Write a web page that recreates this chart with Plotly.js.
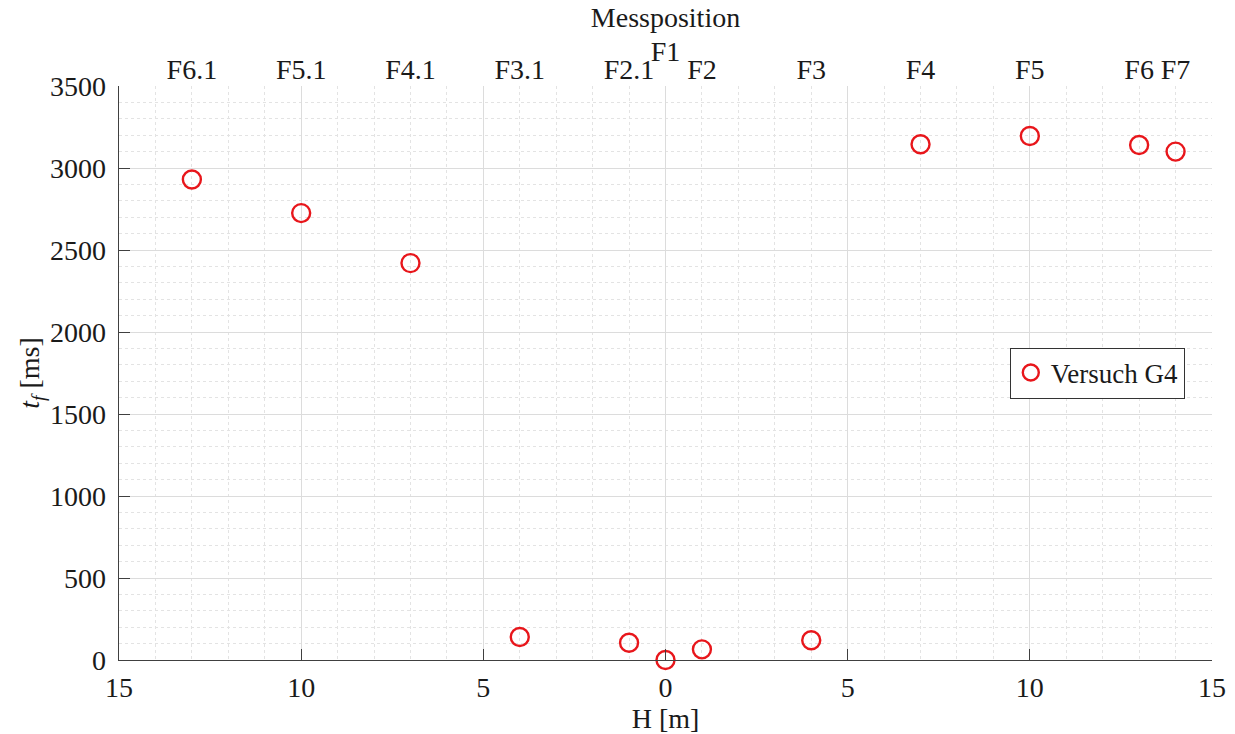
<!DOCTYPE html>
<html>
<head>
<meta charset="utf-8">
<script src="https://cdn.plot.ly/plotly-3.0.1.min.js"></script>
<style>html,body{margin:0;padding:0;background:#fff}#chart{width:1235px;height:734px}</style>
</head>
<body>
<div id="chart"></div>
<script>
// Data
const positions = ["F6.1","F5.1","F4.1","F3.1","F2.1","F1","F2","F3","F4","F5","F6","F7"];
const hValues = [-13,-10,-7,-4,-1,0,1,4,7,10,13,14];
const tfValues = [2930,2725,2420,140,105,0,65,120,3145,3195,3140,3100];
const xTickVals = [-15,-10,-5,0,5,10,15];
const xTickText = ["15","10","5","0","5","10","15"];
const raisedLabel = "F1";
const seriesName = "Versuch G4";

const font = "'Liberation Serif', 'Times New Roman', serif";
const fs = 28;
const txt = "#1a1a1a";
const axisColor = "#404040";

const lowerVals = hValues.filter((v, i) => positions[i] !== raisedLabel);
const lowerText = positions.filter(p => p !== raisedLabel);
const raisedVals = hValues.filter((v, i) => positions[i] === raisedLabel);

const trace = {
  x: hValues, y: tfValues, type: "scatter", mode: "markers", name: seriesName,
  marker: {symbol: "circle-open", size: 18, color: "#e8161b", line: {width: 2.4, color: "#e8161b"}},
  cliponaxis: false
};
const dummy2 = {x: hValues, y: tfValues, xaxis: "x2", type: "scatter", mode: "markers",
  marker: {opacity: 0}, showlegend: false, hoverinfo: "skip"};
const dummy3 = {x: hValues, y: tfValues, xaxis: "x3", type: "scatter", mode: "markers",
  marker: {opacity: 0}, showlegend: false, hoverinfo: "skip"};

const layout = {
  width: 1235, height: 734,
  margin: {l: 119, r: 23, t: 86, b: 74},
  paper_bgcolor: "#fff", plot_bgcolor: "#fff",
  font: {family: font, size: fs, color: txt},
  showlegend: true,
  legend: {x: 0.815, y: 0.5, xanchor: "left", yanchor: "middle",
    bgcolor: "#fff", bordercolor: "#333", borderwidth: 1,
    itemwidth: 30, tracegroupgap: 0,
    font: {family: font, size: 27, color: txt}},
  xaxis: {
    range: [-15, 15], tickvals: xTickVals, ticktext: xTickText, tickangle: 0,
    ticks: "inside", ticklen: 11, tickcolor: axisColor, tickwidth: 1,
    showline: true, linecolor: axisColor, linewidth: 1.3,
    showgrid: true, gridcolor: "#dcdcdc", gridwidth: 1, zeroline: false,
    minor: {dtick: 1, tick0: 0, showgrid: true, gridcolor: "#e3e3e3", griddash: "dot", ticks: ""},
    ticklabelstandoff: 2,
    tickfont: {family: font, size: fs, color: txt},
    title: {text: "H [m]", font: {family: font, size: fs, color: txt}, standoff: 0}
  },
  xaxis2: {
    overlaying: "x", side: "top", range: [-15, 15], tickangle: 0,
    tickvals: lowerVals, ticktext: lowerText, ticks: "", showline: false,
    showgrid: false, zeroline: false,
    tickfont: {family: font, size: fs, color: txt}
  },
  xaxis3: {
    overlaying: "x", side: "top", range: [-15, 15], tickangle: 0,
    tickvals: raisedVals, ticktext: [raisedLabel], ticks: "", showline: false,
    showgrid: false, zeroline: false, ticklabelstandoff: 18,
    tickfont: {family: font, size: fs, color: txt},
    title: {text: "Messposition", font: {family: font, size: fs, color: txt}, standoff: 0}
  },
  yaxis: {
    range: [0, 3500], dtick: 500, tick0: 0,
    ticks: "inside", ticklen: 11, tickcolor: axisColor, tickwidth: 1,
    showline: true, linecolor: axisColor, linewidth: 1.3,
    showgrid: true, gridcolor: "#dcdcdc", gridwidth: 1, zeroline: false,
    minor: {dtick: 100, tick0: 0, showgrid: true, gridcolor: "#e3e3e3", griddash: "dot", ticks: ""},
    ticklabelstandoff: 6,
    tickfont: {family: font, size: fs, color: txt},
    title: {text: "<i>t</i><sub><i>f</i></sub> [ms]", font: {family: font, size: fs, color: txt}, standoff: 2}
  }
};

Plotly.newPlot("chart", [trace, dummy2, dummy3], layout, {staticPlot: true, displayModeBar: false});
</script>
</body>
</html>
